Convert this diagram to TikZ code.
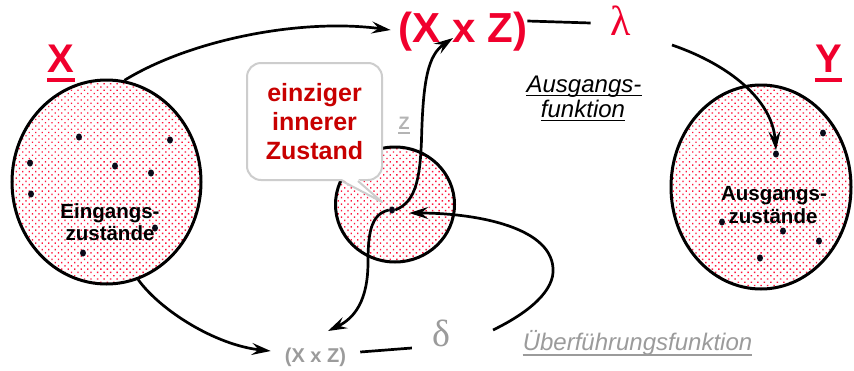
\documentclass[tikz,border=0pt]{standalone}
\usepackage{fontspec}
\setmainfont{Liberation Sans}
\newfontfamily\greekfont{Liberation Serif}
\usetikzlibrary{arrows.meta,shapes.geometric,patterns.meta}
\definecolor{xred}{RGB}{240,0,45}
\definecolor{dred}{RGB}{200,0,0}
\definecolor{dotred}{RGB}{255,20,60}
\definecolor{lgray}{RGB}{180,180,180}
\definecolor{mgray}{RGB}{155,155,155}
\definecolor{cgray}{RGB}{205,205,205}
\definecolor{elemcol}{RGB}{10,10,25}
\tikzset{
  setshape/.style={ellipse, draw=black, line width=3pt, inner sep=0pt,
    pattern={Dots[distance=4.6pt, radius=0.95pt, angle=45]}, pattern color=dotred},
  elem/.style={ellipse, fill=elemcol, inner sep=0pt, minimum width=6pt, minimum height=7pt},
  arr/.style={line width=2.7pt, -{Stealth[length=19pt,width=12pt,inset=7pt]}},
  plain/.style={line width=2.7pt},
  ulbl/.style={anchor=base, inner sep=0pt, font=\fontsize{40}{44}\selectfont\bfseries, text=xred},
  inlbl/.style={anchor=base, inner sep=0pt, font=\fontsize{20.5}{22}\selectfont\bfseries},
  itlbl/.style={anchor=base, inner sep=0pt, font=\fontsize{24}{26}\selectfont\itshape},
}
\begin{document}
\begin{tikzpicture}[x=1pt,y=-1pt]
\useasboundingbox[fill=white] (0,0) rectangle (854,370);

% sets
\node[setshape, minimum width=189pt, minimum height=204pt] (X) at (106.5,182) {};
\node[setshape, minimum width=180pt, minimum height=204pt] (Y) at (761,187) {};
\node[setshape, minimum width=119pt, minimum height=115pt] (Z) at (395,204.5) {};

% elements of X
\node[elem] (x1) at (79,137) {};
\node[elem] (x2) at (170,140) {};
\node[elem] (x3) at (30,163) {};
\node[elem] (x4) at (115,166) {};
\node[elem] (x5) at (151,173) {};
\node[elem] (x6) at (31,194) {};
\node[elem] (x7) at (155,228) {};
\node[elem] (x8) at (83,253) {};
% elements of Y
\node[elem] (yd) at (776,154) {};
\node[elem] (y2) at (823,133) {};
\node[elem] (y3) at (722,222) {};
\node[elem] (y4) at (783,231) {};
\node[elem] (y5) at (819,241) {};
\node[elem] (y6) at (760,258) {};
% single inner state
\node[elem] (zd) at (392,210) {};

% labels inside sets
\node[inlbl] (ein1) at (110,218) {Eingangs-};
\node[inlbl] (ein2) at (110,240) {zustände};
\node[inlbl] (aus1) at (774,200) {Ausgangs-};
\node[inlbl] (aus2) at (773,223) {zustände};

% set names
\node[ulbl] (Xl) at (61,72) {X};
\draw[xred, line width=4pt] ([yshift=-8pt]Xl.base west) -- ([yshift=-8pt]Xl.base east);
\node[ulbl] (Yl) at (828.5,72) {Y};
\draw[xred, line width=4pt] ([yshift=-8pt]Yl.base west) -- ([yshift=-8pt]Yl.base east);
\node[anchor=base, inner sep=0pt, font=\fontsize{18}{20}\selectfont\bfseries, text=lgray] (Zl) at (404,129) {Z};
\draw[lgray, line width=2pt] ([yshift=-4pt]Zl.base west) -- ([yshift=-4pt]Zl.base east);

% products
\node[anchor=base, inner sep=0pt, font=\fontsize{42}{46}\selectfont\bfseries, text=xred] (XZ) at (463,42) {(X x Z)};
\node[anchor=base, inner sep=0pt, font=\fontsize{20}{22}\selectfont\bfseries, text=mgray] (bxz) at (315.5,362) {(X x Z)};

% function symbols
\node[inner sep=0pt, font=\fontsize{42}{46}\selectfont\greekfont, text=xred] (lam) at (621,21) {λ};
\node[inner sep=0pt, font=\fontsize{38}{42}\selectfont\greekfont, text=mgray] (dl) at (441,333) {δ};

% function names
\node[itlbl] (af1) at (584,92) {Ausgangs-};
\draw[line width=1.5pt] ([yshift=-3.5pt]af1.base west) -- ([yshift=-3.5pt]af1.base east);
\node[itlbl] (af2) at (583,117) {funktion};
\draw[line width=1.5pt] ([yshift=-3.5pt]af2.base west) -- ([yshift=-3.5pt]af2.base east);
\node[itlbl, text=mgray] (uf) at (637.5,350) {Überführungsfunktion};
\draw[mgray, line width=1.5pt] ([yshift=-5pt]uf.base west) -- ([yshift=-5pt]uf.base east);

% callout
\node[draw=cgray, line width=2pt, fill=white, rounded corners=14pt,
      minimum width=135pt, minimum height=117pt, align=center, inner sep=0pt,
      font=\fontsize{25}{29}\selectfont\bfseries, text=dred] (cz) at (314.5,121.5)
      {einziger\\innerer\\Zustand};
\coordinate (ctip) at (382,202);
\fill[white] ([xshift=27.5pt,yshift=2pt]cz.south) -- (ctip) -- ([xshift=43.5pt,yshift=2pt]cz.south) -- cycle;
\draw[cgray, line width=2pt, line join=round] ([xshift=27.5pt]cz.south) -- (ctip) -- ([xshift=43.5pt]cz.south);

% connectors
\draw[arr] (X.80) .. controls (190,40) and (300,18) .. ([xshift=-8pt,yshift=12pt]XZ.base west);
\draw[arr] (X.-72) .. controls (160,310) and (215,345) .. ([xshift=-14pt,yshift=11pt]bxz.base west);
\draw[arr] (zd.east) .. controls (416,202) and (420,178) .. (421.5,140)
  .. controls (423,80) and (428,55) .. ([xshift=-10pt,yshift=4pt]XZ.base);
\draw[arr] (zd.west) .. controls (372,214) and (368,230) .. (368,262)
  .. controls (368,300) and (355,318) .. ([xshift=12.5pt,yshift=31pt]bxz.base);
\coordinate (d1) at (493,330);
\draw[arr] (d1) .. controls (530,312) and (555,290) .. (553,268)
  .. controls (550,225) and (470,213) .. ([xshift=14pt,yshift=-3pt]zd.east);
\draw[plain] ([yshift=21pt]XZ.base east) -- ([xshift=-20pt,yshift=-2pt]lam.west);
\coordinate (l1) at (672,45);
\draw[arr] (l1) .. controls (730,65) and (772,100) .. (yd.north);
\draw[plain] ([xshift=14pt,yshift=10pt]bxz.base east) -- ([xshift=-20pt,yshift=-15pt]dl.west);
\end{tikzpicture}
\end{document}
